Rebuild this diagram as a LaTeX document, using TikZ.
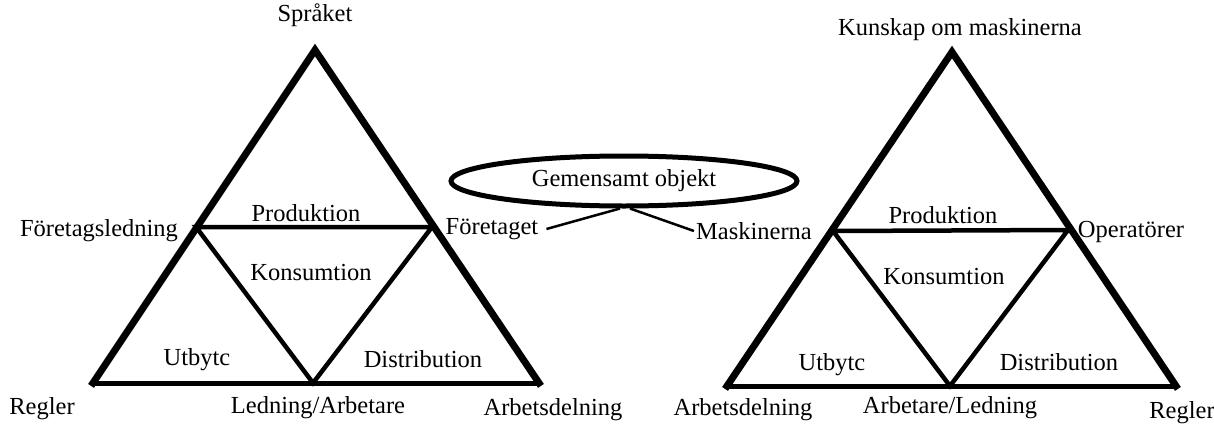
\documentclass[tikz,border=0pt]{standalone}
\usepackage{fontspec}
\setmainfont{Liberation Serif}
\usetikzlibrary{shapes.geometric}
\begin{document}
\begin{tikzpicture}[x=1pt,y=-1pt,
  lbl/.style={inner sep=2pt,font=\fontsize{24.5}{26}\selectfont},
  outer/.style={line width=7pt,line join=miter,line cap=rect},
  bottomedge/.style={line width=5pt},
  inner/.style={line width=4.5pt,line join=miter},
  conn/.style={line width=2.5pt}]
\useasboundingbox[fill=white] (0,0) rectangle (1214,423);
% ---------- left triangle ----------
\coordinate (A1) at (315,50);
\coordinate (B1) at (93,383);
\coordinate (C1) at (539,383);
\coordinate (L1) at (196,227);
\coordinate (R1) at (432,227);
\coordinate (M1) at (313,383);
\draw[outer] (B1) -- (A1) -- (C1);
\draw[bottomedge] (B1) -- (C1);
\draw[inner] (L1) -- (R1) -- (M1) -- cycle;
\node[lbl] (sprak) at (315,15) {Språket};
\node[lbl] (ftl) at (99,231) {Företagsledning};
\node[lbl] (ftg) at (492,229) {Företaget};
\node[lbl] (prod1) at (306,213) {Produktion};
\node[lbl] (kons1) at (311,273) {Konsumtion};
\node[lbl] (utb1) at (197,360) {Utbytc};
\node[lbl] (dist1) at (423,359) {Distribution};
\node[lbl] (regl1) at (42,409) {Regler};
\node[lbl] (leda1) at (318,408) {Ledning/Arbetare};
\node[lbl] (arbd1) at (553,410) {Arbetsdelning};
% ---------- middle ----------
\node[ellipse,draw,line width=5pt,minimum width=346pt,minimum height=50pt,inner sep=0pt,lbl] (ell) at (624,181) {Gemensamt objekt};
\node[lbl] (mask) at (754,231) {Maskinerna};
\draw[conn] ([xshift=6pt]ftg.east) -- ([xshift=-4pt]ell.south);
\draw[conn] ([xshift=6pt]ell.south) -- (mask.west);
% ---------- right triangle ----------
\coordinate (A2) at (952,52);
\coordinate (B2) at (727,386);
\coordinate (C2) at (1176,386);
\coordinate (L2) at (833,231);
\coordinate (R2) at (1068,230);
\coordinate (M2) at (950,386);
\draw[outer] (B2) -- (A2) -- (C2);
\draw[bottomedge] (B2) -- (C2);
\draw[inner] (L2) -- (R2) -- (M2) -- cycle;
\node[lbl] (kunsk) at (960,30) {Kunskap om maskinerna};
\node[lbl] (oper) at (1131,232) {Operatörer};
\node[lbl] (prod2) at (943,215) {Produktion};
\node[lbl] (kons2) at (944,277) {Konsumtion};
\node[lbl] (utb2) at (832,365) {Utbytc};
\node[lbl] (dist2) at (1059,362) {Distribution};
\node[lbl] (arbd2) at (743,410) {Arbetsdelning};
\node[lbl] (arle2) at (950,408) {Arbetare/Ledning};
\node[lbl] (regl2) at (1182,413) {Regler};
\end{tikzpicture}
\end{document}
